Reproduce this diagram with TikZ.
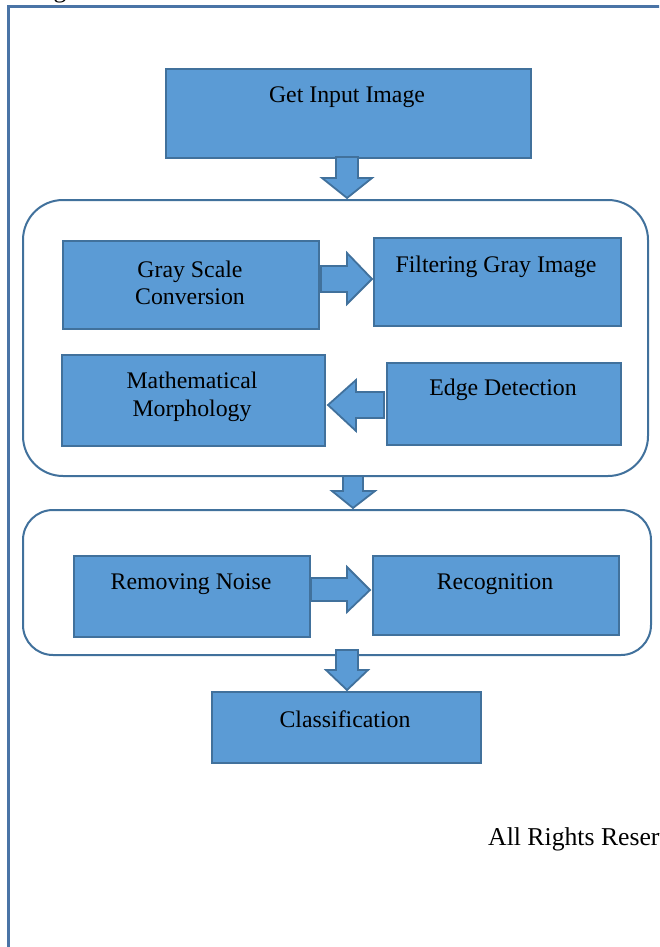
\documentclass[tikz,border=0pt]{standalone}
\usepackage{fontspec}
\setmainfont{Liberation Serif}
\definecolor{boxfill}{HTML}{5B9BD5}
\definecolor{boxline}{HTML}{41719C}
\definecolor{frameline}{HTML}{4A74A6}
\begin{document}
\begin{tikzpicture}[x=1pt,y=-1pt,
  box/.style={draw=boxline, fill=boxfill, line width=2pt, anchor=north west, inner sep=0pt},
  lbl/.style={font=\fontsize{23.8}{27.5}\selectfont, align=center, text=black, inner sep=0pt},
  foot/.style={font=\fontsize{25.7}{30}\selectfont, text=black, inner sep=0pt},
  cont/.style={draw=boxline, line width=2pt},
  barrow/.style={draw=boxline, fill=boxfill, line width=1.8pt, line join=miter}]
\useasboundingbox (0,0) rectangle (659,947);
\clip (0,0) rectangle (659,947);
\fill[white] (0,0) rectangle (659,947);
% frame
\draw[frameline, line width=3pt] (8,947) -- (8,7) -- (662,7);
\node[foot, anchor=base] (gcut) at (60,-2) {g};
% containers
\draw[cont, rounded corners=40pt] (23,200) rectangle (648,476);
\draw[cont, rounded corners=30pt] (23,510) rectangle (651,655);
% boxes
\node[box, minimum width=365pt, minimum height=89pt] (gi) at (165,68) {};
\node[lbl] (tgi) at (347,97) {Get Input Image};
\node[box, minimum width=256pt, minimum height=88pt] (gs) at (62,240) {};
\node[lbl] (tgs) at (190,283) {Gray Scale\\Conversion};
\node[box, minimum width=247pt, minimum height=88pt] (fg) at (373,237) {};
\node[lbl] (tfg) at (496,267) {Filtering Gray Image};
\node[box, minimum width=263pt, minimum height=91pt] (mm) at (61,354) {};
\node[lbl] (tmm) at (192,397) {Mathematical\\Morphology};
\node[box, minimum width=234pt, minimum height=82pt] (ed) at (386,362) {};
\node[lbl] (ted) at (503,390) {Edge Detection};
\node[box, minimum width=236pt, minimum height=81pt] (rn) at (73,555) {};
\node[lbl] (trn) at (191,584) {Removing Noise};
\node[box, minimum width=246pt, minimum height=79pt] (rc) at (372,555) {};
\node[lbl] (trc) at (495,584) {Recognition};
\node[box, minimum width=269pt, minimum height=71pt] (cl) at (211,691) {};
\node[lbl] (tcl) at (345,719) {Classification};
% block arrows
\draw[barrow] (336,157) -- (358,157) -- (358,178) -- (372,178) -- (347,198) -- (322,178) -- (336,178) -- cycle;
\draw[barrow] (321,266) -- (347,266) -- (347,253) -- (372,279) -- (347,304) -- (347,292) -- (321,292) -- cycle;
\draw[barrow] (384,392) -- (356,392) -- (356,380) -- (328,405) -- (356,431) -- (356,418) -- (384,418) -- cycle;
\draw[barrow] (343,476) -- (363,476) -- (363,491) -- (375,491) -- (353,508) -- (332,491) -- (343,491) -- cycle;
\draw[barrow] (311,578) -- (347,578) -- (347,567) -- (370,590) -- (347,612) -- (347,601) -- (311,601) -- cycle;
\draw[barrow] (336,650) -- (358,650) -- (358,670) -- (368,670) -- (347,690) -- (326,670) -- (336,670) -- cycle;
% footer text
\node[foot, anchor=west] (arr) at (488,839) {All Rights Reserved};
\end{tikzpicture}
\end{document}
